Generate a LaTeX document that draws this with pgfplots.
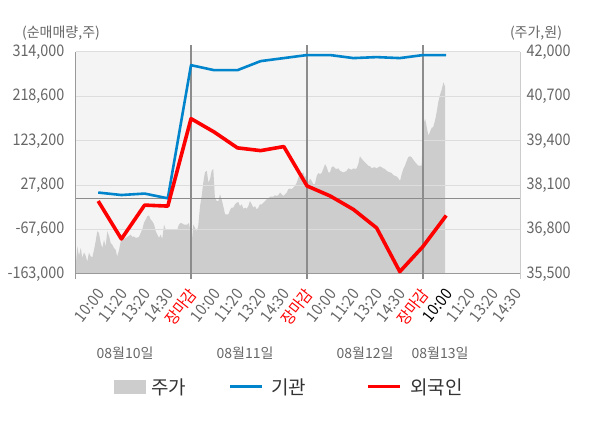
\documentclass[border=0pt]{standalone}
\usepackage{fontspec}
\setmainfont{Noto Sans CJK KR}
\newfontfamily\tickfont[FakeStretch=0.9]{Noto Sans CJK KR}
\usepackage{pgfplots}
\usepackage{pgfplotstable}
\pgfplotsset{compat=1.18}
\definecolor{bgc}{HTML}{F4F4F4}
\definecolor{gridc}{HTML}{DDDDDD}
\definecolor{areac}{HTML}{CDCDCD}
\definecolor{zeroc}{HTML}{8C8C8C}
\definecolor{axc}{HTML}{999999}
\definecolor{raxc}{HTML}{CCCCCC}
\definecolor{bluec}{HTML}{0084CC}
\definecolor{redc}{HTML}{FF0000}
\definecolor{txtc}{HTML}{666666}
\definecolor{legc}{HTML}{333333}

\pgfplotstableread{
x price
-0.97 35716
-0.90 36307
-0.83 36032
-0.75 36268
-0.69 35973
-0.61 36129
-0.54 36032
-0.47 35863
-0.40 36120
-0.32 36011
-0.25 35993
-0.18 36209
-0.11 36454
-0.04 36750
0.03 36702
0.11 36407
0.18 36259
0.25 36505
0.32 36307
0.39 36750
0.47 36602
0.54 36407
0.61 36357
0.68 36259
0.75 36209
0.82 36011
0.90 36209
0.97 36454
1.04 36505
1.11 36525
1.25 36584
1.40 36652
1.47 36584
1.54 36602
1.62 36555
1.76 36584
1.83 36702
1.90 36800
1.97 36998
2.05 37095
2.12 37193
2.19 37214
2.26 37095
2.33 37045
2.41 36948
2.48 36750
2.55 36652
2.62 36555
2.69 36652
2.76 36525
2.84 36948
2.91 36800
3.13 36800
3.41 36800
3.48 36948
3.56 36998
3.70 36948
3.84 36948
3.91 36998
3.99 36702
4.03 36407
4.10 36948
4.17 36850
4.25 36750
4.31 36897
4.39 37488
4.46 37784
4.53 38180
4.60 38475
4.68 38522
4.75 38180
4.82 38277
4.89 38522
4.96 38573
5.03 37737
5.11 37636
5.18 37636
5.25 37834
5.32 37686
5.39 37488
5.47 37243
5.61 37243
5.68 37370
5.75 37441
5.82 37441
5.90 37539
5.97 37589
6.04 37607
6.11 37488
6.19 37539
6.25 37412
6.33 37441
6.40 37412
6.47 37488
6.54 37636
6.62 37539
6.69 37441
6.76 37488
6.83 37391
6.90 37441
6.97 37539
7.05 37539
7.12 37589
7.19 37636
7.26 37686
7.33 37707
7.41 37766
7.55 37766
7.62 37805
7.69 37784
7.76 37805
7.84 37884
7.91 37834
7.98 37784
8.05 37834
8.13 37884
8.19 37982
8.27 38002
8.34 37982
8.41 38032
8.48 38079
8.56 38180
8.63 38327
8.70 38475
8.77 38425
8.84 38475
8.91 38327
8.99 38425
9.06 38180
9.13 38298
9.20 38227
9.27 38130
9.34 38130
9.42 38375
9.49 38455
9.56 38425
9.63 38455
9.70 38573
9.78 38720
9.85 38623
9.92 38475
9.99 38475
10.06 38623
10.13 38652
10.21 38593
10.28 38573
10.35 38593
10.42 38522
10.50 38493
10.56 38475
10.64 38493
10.71 38522
10.78 38593
10.85 38573
10.93 38552
11.00 38593
11.07 38573
11.14 38593
11.21 38720
11.28 38948
11.36 38868
11.43 38818
11.50 38771
11.57 38720
11.64 38670
11.72 38652
11.79 38593
11.86 38623
11.93 38623
12.00 38593
12.07 38623
12.15 38652
12.22 38623
12.29 38593
12.36 38573
12.43 38522
12.50 38493
12.58 38475
12.65 38455
12.72 38395
12.79 38375
12.86 38357
12.94 38298
13.01 38227
13.08 38425
13.15 38573
13.22 38670
13.30 38818
13.36 38918
13.44 38948
13.51 38918
13.58 38847
13.66 38771
13.73 38720
13.80 38670
13.87 38670
13.94 38670
14.01 39852
14.09 40050
14.16 39805
14.23 39557
14.30 39657
14.37 39775
14.44 39805
14.52 40000
14.59 40248
14.66 40543
14.73 40738
14.80 40886
14.88 41114
14.95 40986
}\pricetable

\pgfplotstableread{
x inst
0 12000
1 6700
2 9800
3 -400
4 285700
5 274900
6 274900
7 294400
8 300900
9 307400
10 307400
11 300900
12 303000
13 300900
14 307400
15 307400
}\insttable

\pgfplotstableread{
x foreign
0 -6300
1 -87800
2 -15000
3 -17100
4 170800
5 142000
6 108000
7 102100
8 110800
9 26200
10 4600
11 -24300
12 -64000
13 -158000
14 -103800
15 -37300
}\fortable

\begin{document}
\begin{tikzpicture}[x=1pt,y=1pt]
\path[use as bounding box] (0,0) rectangle (600,428);

% price axis (right)
\begin{axis}[
  at={(76pt,154pt)}, anchor=south west,
  scale only axis, width=444pt, height=222pt,
  xmin=-0.957, xmax=18.18,
  ymin=35500, ymax=42000,
  axis y line*=right, hide x axis,
  axis line style={draw=raxc, line width=1pt},
  axis background/.style={fill=bgc},
  ytick={35500,36800,38100,39400,40700,42000},
  scaled y ticks=false,
  major tick length=0pt,
  /pgf/number format/.cd, fixed, 1000 sep={,}, assume math mode=true,
  /pgfplots/.cd,
  yticklabel style={font=\tickfont\fontsize{16}{16}\selectfont, text=txtc, anchor=west, xshift=3pt},
]
\addplot[fill=areac, draw=none] table[x=x, y=price] {\pricetable} \closedcycle;
\end{axis}

% net buying axis (left)
\begin{axis}[
  at={(76pt,154pt)}, anchor=south west,
  scale only axis, width=444pt, height=222pt,
  xmin=-0.957, xmax=18.18,
  ymin=-163000, ymax=314000,
  axis y line*=left, axis x line*=bottom,
  axis line style={draw=axc, line width=1pt},
  clip=false,
  ytick={-163000,-67600,27800,123200,218600,314000},
  ymajorgrids, grid style={draw=gridc, line width=1pt},
  scaled y ticks=false,
  xtick={0,...,18},
  xticklabels={10:00,11:20,13:20,14:30,{\color{redc}장마감},10:00,11:20,13:20,14:30,{\color{redc}장마감},10:00,11:20,13:20,14:30,{\color{redc}장마감},{\color{black}10:00},11:20,13:20,14:30},
  major tick length=0pt,
  /pgf/number format/.cd, fixed, 1000 sep={,}, assume math mode=true,
  /pgfplots/.cd,
  yticklabel style={font=\tickfont\fontsize{16}{16}\selectfont, text=txtc, anchor=east, xshift=-8pt},
  xticklabel style={font=\tickfont\fontsize{16}{16}\selectfont, text=txtc, inner sep=0pt, xshift=2.5pt, yshift=-17pt, rotate=52, anchor=east},
]
\draw[zeroc, line width=1pt] (axis cs:-0.957,0) -- (axis cs:18.18,0);
\draw[zeroc, line width=1.2pt] (axis cs:4,329000) -- (axis cs:4,-174000);
\draw[zeroc, line width=1.2pt] (axis cs:9,329000) -- (axis cs:9,-174000);
\draw[zeroc, line width=1.2pt] (axis cs:14,329000) -- (axis cs:14,-174000);
\draw[axc, line width=1pt] (axis cs:-0.957,-163000) -- (axis cs:-0.957,-174000);
\draw[raxc, line width=1pt] (axis cs:18.18,-163000) -- (axis cs:18.18,-174000);
\addplot[bluec, line width=2.6pt, line join=round] table[x=x, y=inst] {\insttable};
\addplot[redc, line width=3.6pt, line join=round] table[x=x, y=foreign] {\fortable};
\end{axis}

% titles and date labels
\node[font=\fontsize{14}{14}\selectfont, text=txtc] at (61,395) {(순매매량,주)};
\node[font=\fontsize{14}{14}\selectfont, text=txtc] at (536,395) {(주가,원)};
\node[font=\fontsize{14}{14}\selectfont, text=txtc] at (125,75) {08월10일};
\node[font=\fontsize{14}{14}\selectfont, text=txtc] at (245,75) {08월11일};
\node[font=\fontsize{14}{14}\selectfont, text=txtc] at (365,75) {08월12일};
\node[font=\fontsize{14}{14}\selectfont, text=txtc] at (440,75) {08월13일};

% legend
\fill[areac] (114,34) rectangle (146,48);
\node[font=\fontsize{19}{19}\selectfont, text=legc, anchor=west, inner sep=0pt] at (151,41) {주가};
\draw[bluec, line width=3pt] (230,41) -- (262,41);
\node[font=\fontsize{19}{19}\selectfont, text=legc, anchor=west, inner sep=0pt] at (271,41) {기관};
\draw[redc, line width=3pt] (368,41) -- (400,41);
\node[font=\fontsize{19}{19}\selectfont, text=legc, anchor=west, inner sep=0pt] at (410,41) {외국인};
\end{tikzpicture}
\end{document}
